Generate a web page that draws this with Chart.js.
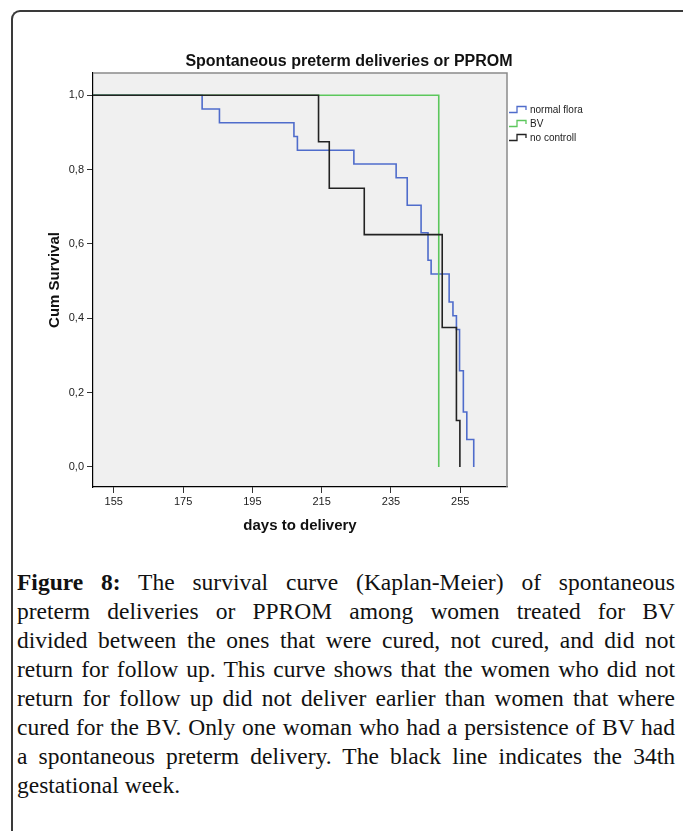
<!DOCTYPE html>
<html><head><meta charset="utf-8">
<script src="https://cdn.jsdelivr.net/npm/chart.js@4.4.1/dist/chart.umd.min.js"></script>
<style>
html,body{margin:0;padding:0;background:#fff;}
body{width:683px;height:831px;position:relative;overflow:hidden;}
#frame{position:absolute;left:11px;top:10px;width:740px;height:900px;border-top:2px solid #3a3a3a;border-left:2px solid #3a3a3a;border-top-left-radius:9px;}
#wrap{position:absolute;left:0;top:0;width:683px;height:545px;}
#caption{position:absolute;left:17px;top:568px;width:658px;font-family:"Liberation Serif","Times New Roman",serif;font-size:23.5px;line-height:29px;color:#111;}
.ln{white-space:nowrap;text-align:justify;text-align-last:justify;}
.ln.last{text-align-last:left;}
</style></head>
<body>
<div id="frame"></div>
<div id="wrap"><canvas id="c" width="683" height="545"></canvas></div>
<div id="caption">
<div class="ln"><b>Figure 8:</b> The survival curve (Kaplan-Meier) of spontaneous</div>
<div class="ln">preterm deliveries or PPROM among women treated for BV</div>
<div class="ln">divided between the ones that were cured, not cured, and did not</div>
<div class="ln">return for follow up. This curve shows that the women who did not</div>
<div class="ln">return for follow up did not deliver earlier than women that where</div>
<div class="ln">cured for the BV. Only one woman who had a persistence of BV had</div>
<div class="ln">a spontaneous preterm delivery. The black line indicates the 34th</div>
<div class="ln last">gestational week.</div>
</div>
<script>
// ---- data ----
const chartTitle = 'Spontaneous preterm deliveries or PPROM';
const xTitle = 'days to delivery';
const yTitle = 'Cum Survival';
const seriesNames = ['normal flora', 'BV', 'no controll'];
const xTicks = [155, 175, 195, 215, 235, 255];
const yTicks = [0, 0.2, 0.4, 0.6, 0.8, 1.0];
const yTickLabels = ['0,0', '0,2', '0,4', '0,6', '0,8', '1,0'];
const xRange = [149, 268.5];
const yRange = [-0.054, 1.06];

const normalDays = [0, 180.5, 185.5, 207, 208, 224.3, 236.5, 239.7, 243.7, 245.7, 246.6, 251.8, 252.9, 253.9, 254.8, 255.9, 256.9, 258.9];
const normalSurv = [1, 0.963, 0.926, 0.889, 0.852, 0.815, 0.778, 0.704, 0.630, 0.556, 0.519, 0.444, 0.407, 0.370, 0.259, 0.148, 0.074, 0];
const bvDays = [0, 248.8];
const bvSurv = [1, 0];
const noCtrlDays = [0, 214.1, 217.2, 227.3, 249.8, 253.9, 254.9];
const noCtrlSurv = [1, 0.875, 0.75, 0.625, 0.375, 0.125, 0];

const colors = ['#4f6ccb', '#5cc75c', '#222222'];

function pts(xs, ys) { return xs.map((x, i) => ({x: x, y: ys[i]})); }

const FONT = '"Liberation Sans", Arial, sans-serif';

const decor = {
  id: 'decor',
  beforeDraw(chart) {
    const {ctx, chartArea: a} = chart;
    ctx.save();
    ctx.fillStyle = '#f0f0f0';
    ctx.fillRect(a.left, a.top, a.right - a.left, a.bottom - a.top);
    ctx.restore();
  },
  afterDraw(chart) {
    const {ctx, chartArea: a} = chart;
    ctx.save();
    ctx.strokeStyle = '#8a8a8a';
    ctx.lineWidth = 1.5;
    ctx.beginPath();
    ctx.moveTo(a.left, a.top); ctx.lineTo(a.right, a.top); ctx.lineTo(a.right, a.bottom);
    ctx.stroke();
    ctx.fillStyle = '#111';
    ctx.font = 'bold 16px ' + FONT;
    ctx.textAlign = 'center'; ctx.textBaseline = 'middle';
    ctx.fillText(chartTitle, 349, 62);
    ctx.font = '10px ' + FONT;
    ctx.textAlign = 'left';
    chart.data.datasets.forEach((ds, i) => {
      const y = 110 + 14 * i;
      ctx.strokeStyle = ds.borderColor;
      ctx.lineWidth = 1.3;
      ctx.beginPath();
      ctx.moveTo(509, y + 2.5); ctx.lineTo(517, y + 2.5); ctx.lineTo(517, y - 3.5);
      ctx.lineTo(526, y - 3.5); ctx.lineTo(526, y);
      ctx.stroke();
      ctx.fillStyle = '#222';
      ctx.fillText(ds.label, 530, y);
    });
    ctx.restore();
  }
};

new Chart(document.getElementById('c'), {
  type: 'line',
  data: {
    datasets: [
      {label: seriesNames[0], data: pts(normalDays, normalSurv), borderColor: colors[0], order: 2},
      {label: seriesNames[1], data: pts(bvDays, bvSurv), borderColor: colors[1], order: 1},
      {label: seriesNames[2], data: pts(noCtrlDays, noCtrlSurv), borderColor: colors[2], order: 0}
    ].map(d => Object.assign(d, {stepped: 'before', borderWidth: 1.6, pointRadius: 0, fill: false, tension: 0}))
  },
  options: {
    responsive: false,
    animation: false,
    layout: {padding: {left: 20, top: 73, right: 176, bottom: 0}},
    plugins: {legend: {display: false}, tooltip: {enabled: false}, title: {display: false}},
    scales: {
      x: {
        type: 'linear', min: xRange[0], max: xRange[1],
        afterBuildTicks: s => { s.ticks = xTicks.map(v => ({value: v})); },
        afterFit: s => { s.height = 58; },
        ticks: {font: {family: FONT, size: 11}, color: '#222', padding: 2, maxRotation: 0, autoSkip: false,
                callback: v => String(v)},
        grid: {drawOnChartArea: false, drawTicks: true, tickLength: 6, color: '#333', lineWidth: 1},
        border: {display: true, color: '#000', width: 1.2},
        title: {display: true, text: xTitle, font: {family: FONT, size: 15, weight: 'bold'}, color: '#111', padding: {top: 0, bottom: 10}}
      },
      y: {
        type: 'linear', min: yRange[0], max: yRange[1],
        afterBuildTicks: s => { s.ticks = yTicks.map(v => ({value: v})); },
        afterFit: s => { s.width = 73; },
        ticks: {font: {family: FONT, size: 11}, color: '#222', padding: 3, autoSkip: false,
                callback: v => { const i = yTicks.findIndex(t => Math.abs(t - v) < 1e-6); return i >= 0 ? yTickLabels[i] : ''; }},
        grid: {drawOnChartArea: false, drawTicks: true, tickLength: 6, color: '#333', lineWidth: 1},
        border: {display: true, color: '#000', width: 1.2},
        title: {display: true, text: yTitle, font: {family: FONT, size: 15, weight: 'bold'}, color: '#111', padding: {top: 26, bottom: 0}}
      }
    }
  },
  plugins: [decor]
});
</script>
</body></html>
